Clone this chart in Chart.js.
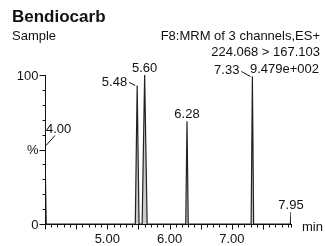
<!DOCTYPE html>
<html>
<head>
<meta charset="utf-8">
<script src="https://cdn.jsdelivr.net/npm/chart.js@4/dist/chart.umd.min.js"></script>
<style>
  html, body { margin: 0; padding: 0; background: #fff; }
  #wrap { width: 325px; height: 246px; }
</style>
</head>
<body>
<div id="wrap"><canvas id="chart" width="325" height="246"></canvas></div>
<script>
// chart text
const title = "Bendiocarb";
const sampleName = "Sample";
const headerLines = ["F8:MRM of 3 channels,ES+", "224.068 > 167.103"];
const intensity = "9.479e+002";
const xUnit = "min";

// trace (time in min, relative intensity %)
const traceTimes  = [4.00, 4.005, 4.02, 5.45, 5.48, 5.51, 5.56, 5.60, 5.64, 6.26, 6.28, 6.30, 7.31, 7.33, 7.35, 7.94, 7.95];
const traceValues = [52,   35,    0,    0,    93,   0,    0,    100,  0,    0,    69,   0,    0,    99,   0,    0,    8];

// labelled peaks
const peakTimes  = [4.00, 5.48, 5.60, 6.28, 7.33, 7.95];
const peakValues = [52, 93, 100, 69, 99, 8];
const peakLabels = ["4.00", "5.48", "5.60", "6.28", "7.33", "7.95"];

// axes
const xMin = 4.0, xMax = 7.95;
const xLabelTicks = [5, 6, 7];
const yTickLabels = { 0: "0", 50: "%", 100: "100" };

const FONT = '"Liberation Sans", Arial, sans-serif';

const decor = {
  id: "decor",
  afterDraw(chart) {
    const ctx = chart.ctx;
    const x = chart.scales.x, y = chart.scales.y;
    const ca = chart.chartArea;
    ctx.save();
    ctx.strokeStyle = "#111";
    ctx.fillStyle = "#111";
    ctx.lineWidth = 1;

    // header text
    ctx.font = "bold 17px " + FONT;
    ctx.textAlign = "left";
    ctx.textBaseline = "alphabetic";
    ctx.fillText(title, 12, 22);
    ctx.font = "13px " + FONT;
    ctx.fillText(sampleName, 12, 40);
    ctx.textAlign = "right";
    ctx.fillText(headerLines[0], 320, 40);
    ctx.fillText(headerLines[1], 320, 56);
    ctx.fillText(intensity, 319, 73);

    // y axis
    const ax = Math.round(ca.left) + 0.5;
    const ay = Math.round(ca.bottom) + 0.5;
    ctx.beginPath();
    ctx.moveTo(ax, Math.round(y.getPixelForValue(100)));
    ctx.lineTo(ax, ay);
    for (let v = 0; v <= 100; v += 10) {
      const py = Math.round(y.getPixelForValue(v)) + 0.5;
      const len = yTickLabels[v] !== undefined ? 6 : 3;
      ctx.moveTo(ax - len, py);
      ctx.lineTo(ax, py);
    }
    ctx.stroke();
    ctx.textAlign = "right";
    ctx.textBaseline = "middle";
    Object.keys(yTickLabels).forEach(v => {
      ctx.fillText(yTickLabels[v], ax - 7, y.getPixelForValue(+v) + 1);
    });

    // x axis
    ctx.beginPath();
    ctx.moveTo(ax, ay);
    ctx.lineTo(Math.round(ca.right) + 1, ay);
    for (let i = 0; i <= 39; i++) {
      const t = xMin + i * 0.1;
      const px = Math.round(x.getPixelForValue(t)) + 0.5;
      const len = i % 5 === 0 ? 5 : 3;
      ctx.moveTo(px, ay);
      ctx.lineTo(px, ay + len);
    }
    const ex = Math.round(ca.right) + 0.5;
    ctx.moveTo(ex, ay);
    ctx.lineTo(ex, ay + 3);
    ctx.stroke();
    ctx.textAlign = "center";
    ctx.textBaseline = "alphabetic";
    xLabelTicks.forEach(t => {
      ctx.fillText(t.toFixed(2), x.getPixelForValue(t), 243);
    });
    ctx.textAlign = "left";
    ctx.textBaseline = "middle";
    ctx.fillText(xUnit, 302, 227);

    // peak labels
    ctx.textBaseline = "alphabetic";
    peakTimes.forEach((t, i) => {
      const px = x.getPixelForValue(t);
      const py = y.getPixelForValue(peakValues[i]);
      const lab = peakLabels[i];
      ctx.beginPath();
      if (i === 0) {
        ctx.textAlign = "left";
        ctx.fillText(lab, px + 1, py - 14);
        ctx.moveTo(px + 1, py - 1);
        ctx.lineTo(px + 10, py - 11);
        ctx.stroke();
      } else if (i === 1 || i === 4) {
        const off = i === 1 ? 10 : 13;
        ctx.textAlign = "right";
        ctx.fillText(lab, px - off, py + (i === 1 ? 0.5 : -2.5));
        ctx.moveTo(px - off + 2, py - (i === 1 ? 3 : 5));
        ctx.lineTo(px - 2, py);
        ctx.stroke();
      } else {
        ctx.textAlign = "center";
        ctx.fillText(lab, px, py - 3);
      }
    });
    ctx.restore();
  }
};

new Chart(document.getElementById("chart"), {
  type: "line",
  data: {
    datasets: [{
      data: traceTimes.map((t, i) => ({ x: t, y: traceValues[i] })),
      borderColor: "#222",
      borderWidth: 1.2,
      backgroundColor: "rgba(0,0,0,0.2)",
      fill: "origin",
      pointRadius: 0,
      tension: 0
    }]
  },
  options: {
    responsive: false,
    animation: false,
    layout: { padding: { left: 45, right: 34, top: 75, bottom: 22 } },
    plugins: { legend: { display: false }, tooltip: { enabled: false } },
    scales: {
      x: { type: "linear", min: xMin, max: xMax, display: false },
      y: { min: 0, max: 100, display: false }
    }
  },
  plugins: [decor]
});
</script>
</body>
</html>
